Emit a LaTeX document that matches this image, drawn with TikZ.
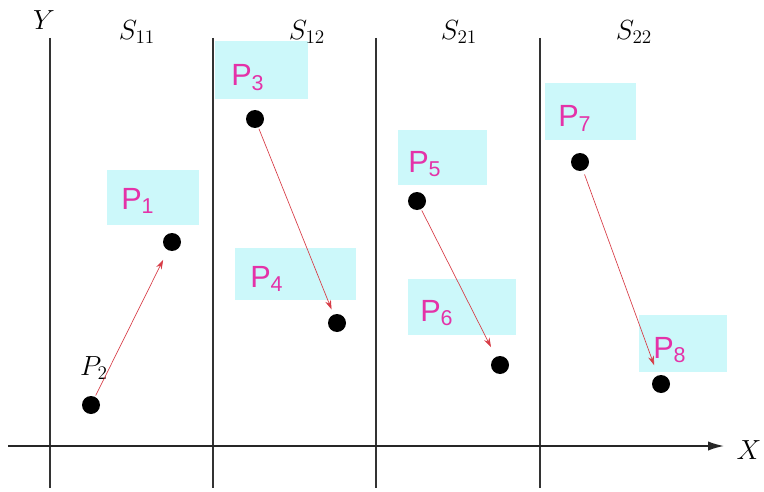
\documentclass[tikz,border=0pt]{standalone}
\usepackage{fontspec}
\newfontfamily\lab{Liberation Sans}
\usetikzlibrary{arrows.meta}
\definecolor{boxcyan}{RGB}{204,248,250}
\definecolor{labmag}{RGB}{228,50,168}
\definecolor{arrred}{RGB}{215,60,70}
\tikzset{
  axisline/.style={line width=1.2pt,black!85},
  divline/.style={line width=0.9pt,black!80},
  pbox/.style={fill=boxcyan,draw=none},
  plab/.style={text=labmag,font=\lab\fontsize{23}{23}\selectfont,inner sep=0pt,anchor=base west},
  dotnode/.style={circle,fill=black,minimum size=13.5pt,inner sep=0pt},
  mv/.style={draw=arrred,line width=0.5pt,-{Stealth[length=7pt,width=4.5pt]}},
  slab/.style={font=\fontsize{20}{20}\selectfont,inner sep=0pt}
}
\begin{document}
\begin{tikzpicture}[x=0.75pt,y=-0.75pt]
\useasboundingbox (0,0) rectangle (764,492);
% cyan boxes
\fill[pbox] (107,170) rectangle (199,225);
\fill[pbox] (215,41) rectangle (308,99);
\fill[pbox] (235,248) rectangle (356,300);
\fill[pbox] (398,130) rectangle (487,185);
\fill[pbox] (408,279) rectangle (516,335);
\fill[pbox] (545,83) rectangle (636,140);
\fill[pbox] (639,315) rectangle (727,372);
% vertical lines
\draw[divline] (50,38) -- (50,488);
\draw[divline] (213,38) -- (213,488);
\draw[divline] (376,38) -- (376,488);
\draw[divline] (540,38) -- (540,488);
% x axis
\coordinate (xs) at (8,446);
\coordinate (xe) at (724,446);
\draw[axisline,-{Latex[length=12pt,width=7pt]}] (xs) -- (xe);
\node[slab] (xl) at (749,450) {$X$};
\node[slab] (yl) at (44,20) {$Y$};
\node[slab] (s11) at (137,32) {$S_{11}$};
\node[slab] (s12) at (307,32) {$S_{12}$};
\node[slab] (s21) at (459,32) {$S_{21}$};
\node[slab] (s22) at (634,32) {$S_{22}$};
% labels
\node[plab] (l1) at (121,209) {P\textsubscript{1}};
\node[plab] (l3) at (231,86) {P\textsubscript{3}};
\node[plab] (l4) at (250,287) {P\textsubscript{4}};
\node[plab] (l5) at (408,172) {P\textsubscript{5}};
\node[plab] (l6) at (420,321) {P\textsubscript{6}};
\node[plab] (l7) at (558,127) {P\textsubscript{7}};
\node[plab] (l8) at (653,358) {P\textsubscript{8}};
\node[slab] (l2) at (94,368) {$P_2$};
% dots
\node[dotnode] (p1) at (172,242) {};
\node[dotnode] (p2) at (91,405) {};
\node[dotnode] (p3) at (255,119) {};
\node[dotnode] (p4) at (337,323) {};
\node[dotnode] (p5) at (417,201) {};
\node[dotnode] (p6) at (500,365) {};
\node[dotnode] (p7) at (580,162) {};
\node[dotnode] (p8) at (661,384) {};
% arrows
\draw[mv,shorten <=1pt,shorten >=8pt] (p2) -- (p1);
\draw[mv,shorten <=1pt,shorten >=4pt] (p3) -- (p4);
\draw[mv,shorten <=1pt,shorten >=8pt] (p5) -- (p6);
\draw[mv,shorten <=3pt,shorten >=8pt] (p7) -- (p8);
\end{tikzpicture}
\end{document}
